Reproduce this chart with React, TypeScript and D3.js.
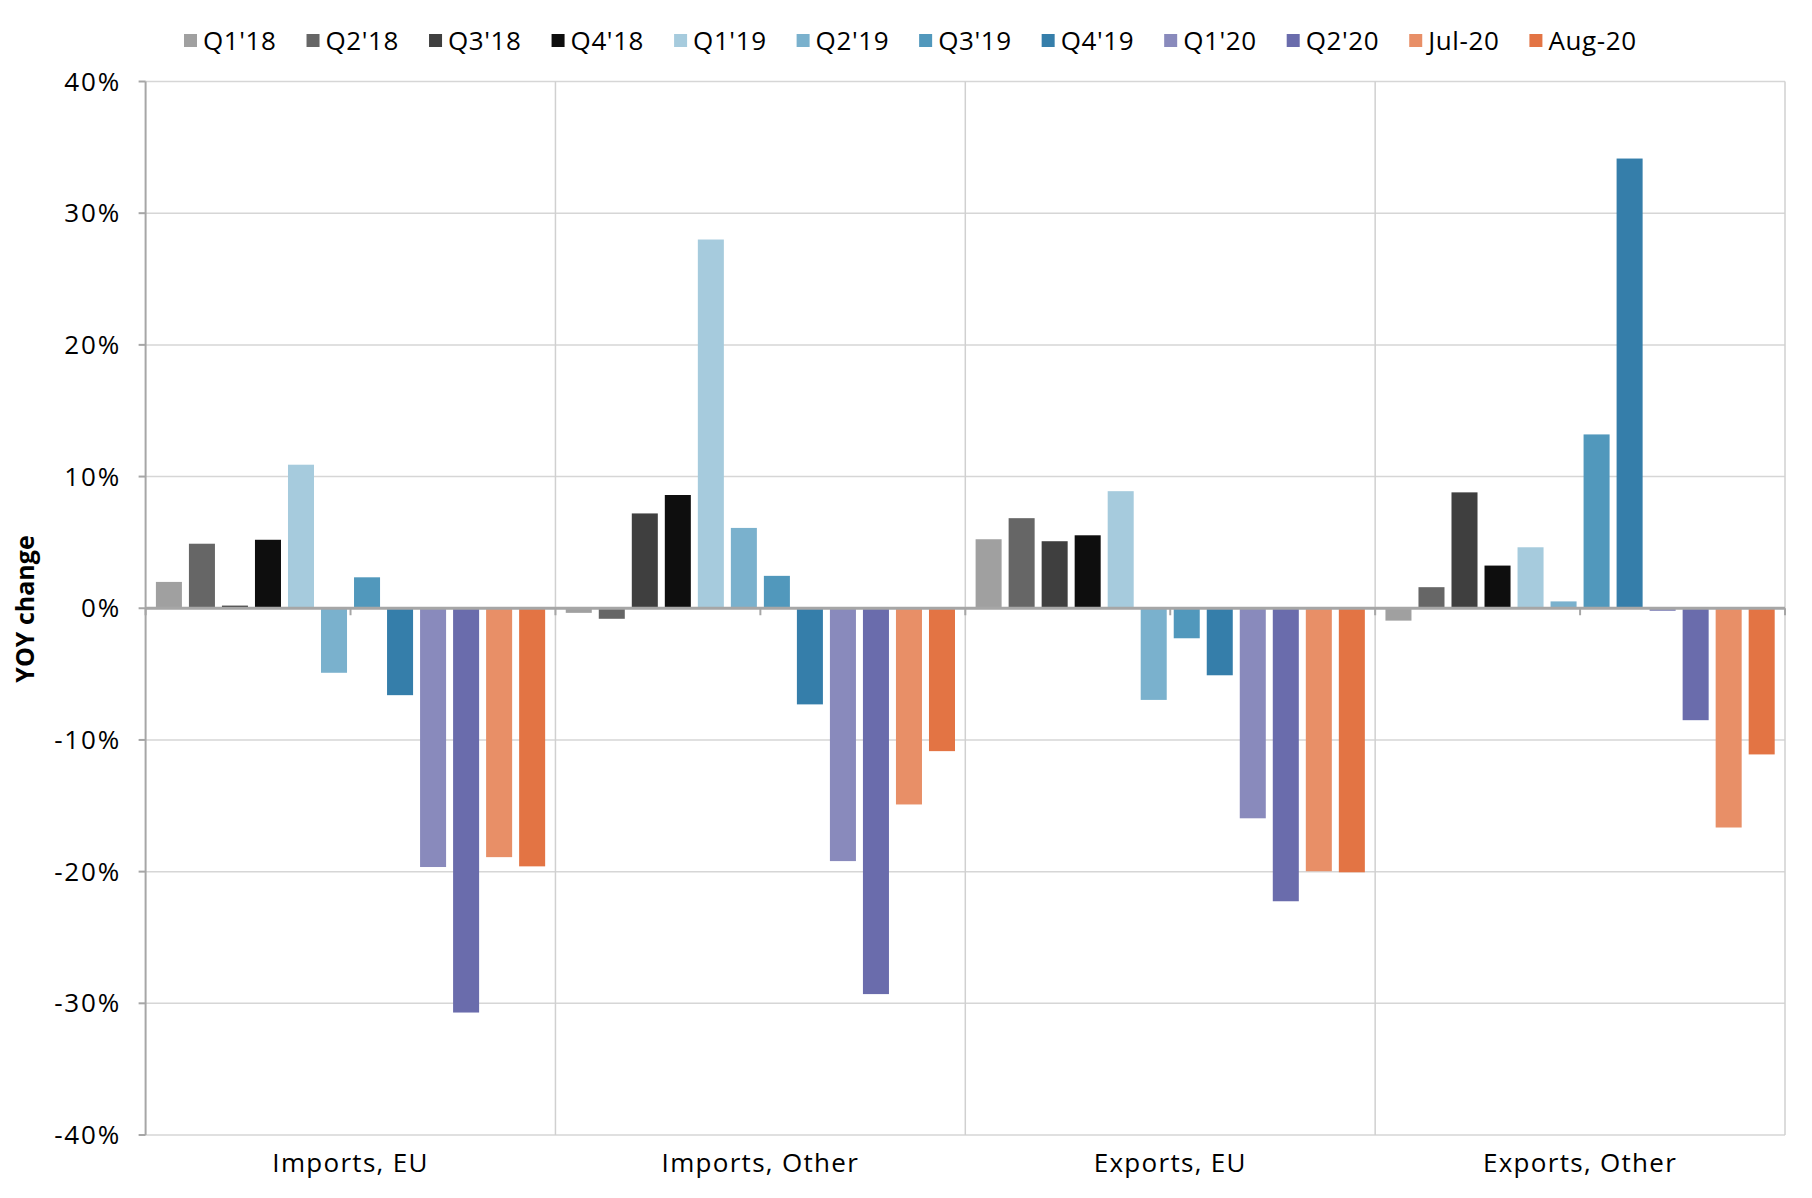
import React, { useEffect, useMemo } from "react";
import * as d3 from "d3";

const categories = ["Imports, EU", "Imports, Other", "Exports, EU", "Exports, Other"];
const seriesNames = ["Q1'18", "Q2'18", "Q3'18", "Q4'18", "Q1'19", "Q2'19", "Q3'19", "Q4'19", "Q1'20", "Q2'20", "Jul-20", "Aug-20"];
const seriesColors = ["#a0a0a0", "#666666", "#3f3f3f", "#0e0e0e", "#a6cbdd", "#7ab1cd", "#5198bc", "#357eaa", "#898abc", "#6a6cac", "#e88f67", "#e37444"];

// values in % per category, one entry per series
const importsEU = [2.0, 4.9, 0.2, 5.2, 10.9, -4.9, 2.35, -6.6, -19.65, -30.7, -18.9, -19.6];
const importsOther = [-0.35, -0.8, 7.2, 8.6, 28.0, 6.1, 2.46, -7.3, -19.2, -29.3, -14.9, -10.85];
const exportsEU = [5.24, 6.84, 5.09, 5.54, 8.89, -6.96, -2.28, -5.09, -15.95, -22.25, -19.97, -20.05];
const exportsOther = [-0.94, 1.6, 8.8, 3.24, 4.63, 0.52, 13.2, 34.15, -0.2, -8.5, -16.65, -11.1];
const categoryValues = [importsEU, importsOther, exportsEU, exportsOther];

const yTicks = [40, 30, 20, 10, 0, -10, -20, -30, -40];

const W = 1812;
const H = 1198;
const FONT = "'Open Sans', 'DejaVu Sans', sans-serif";
const LEGEND_LS = 0.6;

export default function App() {
  useEffect(() => {
    document.body.style.margin = "0";
  }, []);

  const left = 145.6;
  const right = 1785;
  const top = 81.5;
  const bottom = 1135;

  const x0 = d3.scaleBand<string>().domain(categories).range([left, right]).padding(0);
  const x1 = d3
    .scaleBand<string>()
    .domain(seriesNames)
    .range([0, x0.bandwidth()])
    .paddingInner(0.212)
    .paddingOuter(0.312);
  const y = d3.scaleLinear().domain([-40, 40]).range([bottom, top]);

  const legendItems = useMemo(() => {
    const canvas = document.createElement("canvas");
    const ctx = canvas.getContext("2d")!;
    ctx.font = `26px ${FONT}`;
    let cx = 184;
    return seriesNames.map((name, i) => {
      const w = ctx.measureText(name).width + LEGEND_LS * name.length;
      const item = { name, color: seriesColors[i], x: cx, w };
      cx += 13 + 6 + w + 30;
      return item;
    });
  }, []);

  const boundaries = [...categories.map((c) => x0(c)!), right];
  const halfTicks: number[] = [];
  categories.forEach((c) => {
    halfTicks.push(x0(c)!);
    halfTicks.push(x0(c)! + x0.bandwidth() / 2);
  });
  halfTicks.push(right);

  return (
    <svg width={W} height={H} style={{ display: "block", background: "#fff" }} fontFamily={FONT}>
      {/* legend */}
      <g>
        {legendItems.map((it) => (
          <g key={it.name}>
            <rect x={it.x} y={34} width={13} height={13} fill={it.color} />
            <text x={it.x + 19} y={40.5} dy="0.35em" fontSize={26} letterSpacing={LEGEND_LS} fill="#000">
              {it.name}
            </text>
          </g>
        ))}
      </g>

      {/* horizontal gridlines */}
      {yTicks.map((t) => (
        <line key={"g" + t} x1={left} x2={right} y1={y(t)} y2={y(t)} stroke="#d6d6d6" strokeWidth={1.5} />
      ))}
      {/* vertical group separators */}
      {boundaries.slice(1).map((b, i) => (
        <line key={"v" + i} x1={b} x2={b} y1={top} y2={bottom} stroke="#d0d0d0" strokeWidth={1.5} />
      ))}

      {/* bars */}
      {categories.map((c, ci) => (
        <g key={c} transform={`translate(${x0(c)},0)`}>
          {categoryValues[ci].map((v, si) => (
            <rect
              key={seriesNames[si]}
              x={x1(seriesNames[si])}
              y={y(Math.max(0, v))}
              width={x1.bandwidth()}
              height={Math.abs(y(v) - y(0))}
              fill={seriesColors[si]}
            />
          ))}
        </g>
      ))}

      {/* y axis */}
      <line x1={left} x2={left} y1={top} y2={bottom} stroke="#a6a6a6" strokeWidth={2} />
      {yTicks.map((t) => (
        <g key={"t" + t}>
          <line x1={left - 7} x2={left} y1={y(t)} y2={y(t)} stroke="#a6a6a6" strokeWidth={2} />
          <text x={121} y={y(t)} dy="0.35em" textAnchor="end" fontSize={26} letterSpacing={1.8} fill="#000">
            {`${t}%`}
          </text>
        </g>
      ))}

      {/* zero line */}
      <line x1={left} x2={right} y1={y(0)} y2={y(0)} stroke="#a6a6a6" strokeWidth={3} />
      {halfTicks.map((hx, i) => (
        <line key={"h" + i} x1={hx} x2={hx} y1={y(0)} y2={y(0) + 7} stroke="#a6a6a6" strokeWidth={2} />
      ))}

      {/* category labels */}
      {categories.map((c) => (
        <text
          key={"c" + c}
          x={x0(c)! + x0.bandwidth() / 2}
          y={1163}
          dy="0.35em"
          textAnchor="middle"
          fontSize={26}
          letterSpacing={1.3}
          fill="#000"
        >
          {c}
        </text>
      ))}

      {/* y axis title */}
      <text
        transform={`translate(25,609) rotate(-90)`}
        dy="0.35em"
        textAnchor="middle"
        fontSize={25}
        fontWeight="bold"
        fill="#000"
      >
        YOY change
      </text>
    </svg>
  );
}
